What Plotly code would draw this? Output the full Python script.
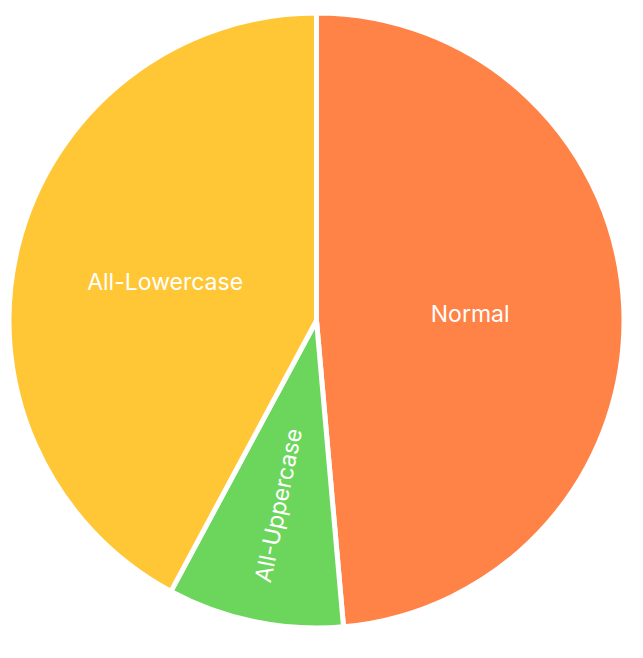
import plotly.graph_objects as go

labels = ["Normal", "All-Uppercase", "All-Lowercase"]
values = [48.6, 9.25, 42.15]
colors = ["#FF8247", "#6CD65C", "#FFC636"]

fig = go.Figure(go.Pie(
    labels=labels,
    values=values,
    sort=False,
    direction="clockwise",
    rotation=0,
    marker=dict(colors=colors, line=dict(color="white", width=5)),
    textinfo="label",
    textposition="inside",
    insidetextorientation="auto",
    textfont=dict(color="white", size=23, family="Inter"),
    hoverinfo="label+percent",
))

fig.update_layout(
    width=643, height=658,
    margin=dict(l=0, r=26, t=5, b=38),
    showlegend=False,
    paper_bgcolor="white",
    plot_bgcolor="white",
)

fig.write_html("out.html")
